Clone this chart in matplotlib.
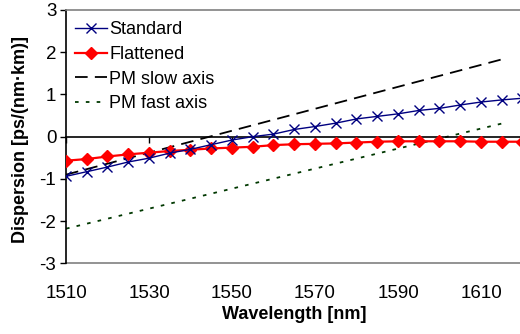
import matplotlib
matplotlib.use("Agg")
import matplotlib.pyplot as plt
import numpy as np

plt.rcParams['font.family'] = ['Liberation Sans', 'DejaVu Sans']
plt.rcParams['axes.unicode_minus'] = False

# Data
wavelength = [1510, 1515, 1520, 1525, 1530, 1535, 1540, 1545, 1550, 1555, 1560,
              1565, 1570, 1575, 1580, 1585, 1590, 1595, 1600, 1605, 1610, 1615, 1620]
standard = [-0.94, -0.83, -0.72, -0.60, -0.51, -0.39, -0.30, -0.19, -0.08, 0.00, 0.06,
            0.17, 0.24, 0.32, 0.42, 0.48, 0.54, 0.62, 0.67, 0.75, 0.82, 0.87, 0.91]
flattened = [-0.57, -0.53, -0.47, -0.42, -0.38, -0.34, -0.31, -0.28, -0.26, -0.24, -0.20,
             -0.18, -0.17, -0.16, -0.14, -0.12, -0.11, -0.11, -0.11, -0.11, -0.12, -0.12, -0.12]
pm_wl = [1510, 1615]
pm_slow = [-0.90, 1.83]
pm_fast = [-2.18, 0.31]

xticks = [1510, 1530, 1550, 1570, 1590, 1610]
yticks = [-3, -2, -1, 0, 1, 2, 3]

fig = plt.figure(figsize=(5.2, 3.34), dpi=100)
ax = fig.add_axes([66/520, (334-263.3)/334, (522.5-66)/520, (263.3-10)/334])

ax.plot(wavelength, standard, color='#000080', lw=1.0, marker='x', ms=7, mew=1.0,
        label='Standard', zorder=4)
ax.plot(wavelength, flattened, color='#ff0000', lw=1.6, marker='D', ms=6,
        label='Flattened', zorder=3)
ax.plot(pm_wl, pm_slow, color='black', lw=1.3, dashes=(7, 4), label='PM slow axis', zorder=2)
ax.plot(pm_wl, pm_fast, color='#003800', lw=1.3, dashes=(2, 4), label='PM fast axis', zorder=2)

ax.set_xlim(1510, 1620)
ax.set_ylim(-3, 3)
ax.set_xticks(xticks)
ax.set_yticks(yticks)

# x axis line crossing at zero (black, ticks out, no labels)
ax.spines['bottom'].set_position(('data', 0))
ax.spines['bottom'].set_color('black')
ax.spines['bottom'].set_linewidth(1.2)
ax.tick_params(axis='x', length=4, width=1, direction='out', labelbottom=False)

for s in ['top', 'right']:
    ax.spines[s].set_color('#808080')
    ax.spines[s].set_linewidth(1.2)
ax.spines['left'].set_color('black')
ax.spines['left'].set_linewidth(1.2)
ax.tick_params(axis='y', length=4, width=1, direction='out', pad=3, labelsize=13.5)

# plot-area border at bottom carrying the labels
sec = ax.secondary_xaxis(0.0)
sec.set_xticks(xticks)
sec.tick_params(axis='x', length=0, pad=15.5, labelsize=13.5)
sec.spines['bottom'].set_color('#808080')
sec.spines['bottom'].set_linewidth(1.2)

ax.set_ylabel('Dispersion [ps/(nm·km)]', fontsize=13, fontweight='bold')
ax.yaxis.set_label_coords(-0.081, 0.487)
ax.set_xlabel('Wavelength [nm]', fontsize=13, fontweight='bold')
ax.xaxis.set_label_coords(0.50, -0.169)

leg = ax.legend(loc='upper left', bbox_to_anchor=(0.0197, 0.956), frameon=False, fontsize=13,
                handlelength=1.8, handletextpad=0.1, labelspacing=0.43, borderaxespad=0.0,
                borderpad=0.0)

fig.savefig('out.png', dpi=100)
